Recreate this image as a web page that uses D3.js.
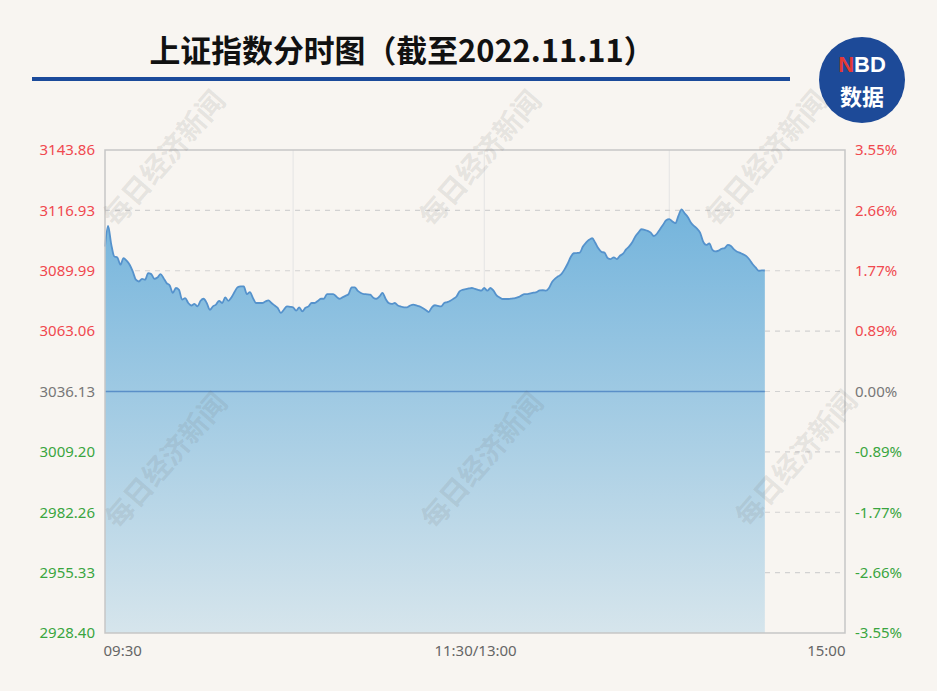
<!DOCTYPE html>
<html>
<head>
<meta charset="utf-8">
<script src="https://cdn.jsdelivr.net/npm/d3@7/dist/d3.min.js"></script>
<style>
  html, body { margin: 0; padding: 0; background: #f8f5f1; }
  svg { display: block; }
</style>
</head>
<body>
<div id="chart"></div>
<script>
// 上证指数 2022-11-11 分时数据 (每分钟, 09:30 起, 读图估计)
const prevClose = 3036.13;
const prices = [
  3100.8, 3110.0, 3102.0, 3096.4, 3095.9, 3092.7, 3095.6, 3094.5, 3092.7, 3089.7,
  3086.0, 3085.2, 3086.4, 3086.0, 3088.9, 3088.5, 3086.4, 3087.0, 3088.5, 3086.7,
  3084.5, 3083.4, 3080.1, 3082.3, 3081.5, 3077.1, 3077.8, 3075.6, 3074.5, 3075.2,
  3074.1, 3076.6, 3077.5, 3075.6, 3072.6, 3074.1, 3074.9, 3076.6, 3075.6, 3078.1,
  3076.6, 3078.1, 3080.5, 3082.6, 3083.0, 3083.0, 3079.6, 3080.5, 3077.8, 3075.6,
  3075.6, 3075.6, 3076.3, 3076.8, 3075.6, 3074.5, 3073.4, 3071.2, 3072.6, 3074.1,
  3073.9, 3073.7, 3072.2, 3073.7, 3071.9, 3073.5, 3074.1, 3075.6, 3075.6, 3076.5,
  3077.5, 3077.5, 3079.6, 3079.6, 3079.6, 3078.5, 3077.5, 3078.1, 3078.8, 3079.6,
  3082.6, 3082.6, 3081.0, 3080.1, 3079.6, 3079.5, 3079.3, 3078.0, 3077.5, 3078.5,
  3080.1, 3077.5, 3075.6, 3075.2, 3075.6, 3074.5, 3074.0, 3073.7, 3073.7, 3074.5,
  3074.9, 3074.5, 3074.1, 3073.4, 3072.5, 3071.6, 3073.7, 3074.6, 3074.3, 3074.1,
  3075.6, 3076.0, 3076.6, 3077.5, 3078.5, 3080.8, 3081.5, 3081.8, 3082.1, 3082.3,
  3081.9, 3081.5, 3081.1, 3082.3, 3081.1, 3082.3, 3081.1, 3079.0, 3078.1, 3077.4,
  3077.4, 3077.4, 3077.6, 3077.8, 3078.2, 3078.9, 3079.6, 3079.6, 3079.9, 3080.2,
  3080.5, 3081.2, 3081.3, 3081.1, 3082.3, 3085.0, 3086.5, 3087.5, 3088.5, 3090.5,
  3093.0, 3096.0, 3097.8, 3097.9, 3098.1, 3100.8, 3102.5, 3103.8, 3104.5, 3102.5,
  3100.0, 3098.4, 3098.1, 3095.7, 3095.2, 3096.0, 3095.2, 3096.7, 3097.6, 3099.5,
  3100.9, 3102.7, 3105.3, 3107.0, 3108.5, 3108.2, 3107.8, 3107.0, 3105.5, 3106.5,
  3108.5, 3110.5, 3112.5, 3113.0, 3112.0, 3111.2, 3114.6, 3117.4, 3115.6, 3114.0,
  3111.5, 3110.0, 3108.8, 3107.0, 3103.0, 3101.5, 3102.2, 3099.3, 3098.6, 3099.0,
  3099.8, 3100.1, 3101.5, 3101.0, 3099.5, 3098.5, 3098.0, 3097.3, 3096.5, 3095.0,
  3093.0, 3091.5, 3090.0, 3090.2, 3090.1
];

// 坐标轴刻度
const leftTicks = [3143.86, 3116.93, 3089.99, 3063.06, 3036.13, 3009.20, 2982.26, 2955.33, 2928.40];
const rightTicks = ["3.55%", "2.66%", "1.77%", "0.89%", "0.00%", "-0.89%", "-1.77%", "-2.66%", "-3.55%"];
const timeTicks = [0, 120, 240];
const timeLabels = ["09:30", "11:30/13:00", "15:00"];
const gridMinutes = [61, 123, 183];

const W = 937, H = 691;
const margin = {top: 150, right: 92, bottom: 58, left: 105};
const innerW = W - margin.left - margin.right,
      innerH = H - margin.top - margin.bottom;

const UP = "#f0494f", DOWN = "#3aa53f", FLAT = "#777";

const svg = d3.select("#chart").append("svg")
  .attr("width", W).attr("height", H)
  .style("font-family", "'Noto Sans', 'Noto Sans CJK SC', sans-serif");

svg.append("rect").attr("width", W).attr("height", H).attr("fill", "#f8f5f1");

// 标题
svg.append("text")
  .attr("x", 402).attr("y", 62)
  .attr("text-anchor", "middle")
  .attr("font-family", "'Noto Sans CJK SC', sans-serif")
  .attr("font-weight", "bold")
  .attr("font-size", 31)
  .attr("textLength", 505)
  .attr("lengthAdjust", "spacingAndGlyphs")
  .attr("fill", "#111")
  .text("上证指数分时图（截至2022.11.11）");

svg.append("rect")
  .attr("x", 32).attr("y", 77).attr("width", 758).attr("height", 4)
  .attr("fill", "#1b4a9a");

// NBD logo
const logo = svg.append("g").attr("transform", "translate(862,80)");
logo.append("circle").attr("r", 43).attr("fill", "#1d4a98");
const nbd = logo.append("text")
  .attr("y", -8).attr("text-anchor", "middle")
  .attr("font-family", "'Liberation Sans', Arial, sans-serif")
  .attr("font-weight", "bold").attr("font-size", 22);
nbd.append("tspan").attr("fill", "#e53935").text("N");
nbd.append("tspan").attr("fill", "#fff").text("BD");
logo.append("text")
  .attr("y", 25).attr("text-anchor", "middle")
  .attr("font-family", "'Noto Sans CJK SC', sans-serif")
  .attr("font-weight", "bold").attr("font-size", 22)
  .attr("fill", "#fff")
  .text("数据");

const g = svg.append("g").attr("transform", `translate(${margin.left},${margin.top})`);

const x = d3.scaleLinear().domain([0, 240]).range([0, innerW]);
const y = d3.scaleLinear().domain([leftTicks[leftTicks.length - 1], leftTicks[0]]).range([innerH, 0]);

// 竖向网格
g.selectAll(".vgrid").data(gridMinutes).enter().append("line")
  .attr("x1", d => x(d)).attr("x2", d => x(d))
  .attr("y1", 0).attr("y2", innerH)
  .attr("stroke", "#e4e4e4").attr("stroke-width", 1);

// 横向虚线网格
g.selectAll(".hgrid").data(leftTicks.slice(1, -1)).enter().append("line")
  .attr("x1", 0).attr("x2", innerW)
  .attr("y1", d => y(d)).attr("y2", d => y(d))
  .attr("stroke", "#d2d2d2").attr("stroke-width", 1.2)
  .attr("stroke-dasharray", "5,5");

// 渐变填充
const defs = svg.append("defs");
const grad = defs.append("linearGradient").attr("id", "areaGrad")
  .attr("gradientUnits", "userSpaceOnUse")
  .attr("x1", 0).attr("y1", y(3117.4)).attr("x2", 0).attr("y2", innerH);
grad.append("stop").attr("offset", "0%").attr("stop-color", "#74b4dc");
grad.append("stop").attr("offset", "100%").attr("stop-color", "#d6e5ec");

const area = d3.area()
  .x((d, i) => x(i))
  .y0(innerH)
  .y1(d => y(d))
  .curve(d3.curveMonotoneX);

const line = d3.line()
  .x((d, i) => x(i))
  .y(d => y(d))
  .curve(d3.curveMonotoneX);

g.append("path").datum(prices).attr("d", area).attr("fill", "url(#areaGrad)");

// 昨收线
g.append("line")
  .attr("x1", x(0)).attr("x2", x(prices.length - 1))
  .attr("y1", y(prevClose)).attr("y2", y(prevClose))
  .attr("stroke", "#5a8fc8").attr("stroke-width", 1.5);

g.append("path").datum(prices).attr("d", line)
  .attr("fill", "none").attr("stroke", "#5592cc").attr("stroke-width", 1.8);

// 边框
g.append("rect").attr("x", 0).attr("y", 0).attr("width", innerW).attr("height", innerH)
  .attr("fill", "none").attr("stroke", "#c6c6c6").attr("stroke-width", 1.5);

// 水印
const marks = [[166, 160], [482, 160], [768, 160], [168, 462], [484, 462], [798, 460]];
svg.selectAll(".wm").data(marks).enter().append("text")
  .attr("transform", d => `translate(${d[0]},${d[1]}) rotate(-49)`)
  .attr("text-anchor", "middle").attr("dominant-baseline", "middle")
  .attr("font-family", "'Noto Sans CJK SC', sans-serif")
  .attr("font-weight", "bold").attr("font-size", 28)
  .attr("fill", "rgba(110,110,110,0.15)")
  .text("每日经济新闻");

// 左轴
const colorFor = v => v > prevClose ? UP : (v < prevClose ? DOWN : FLAT);
const yLeft = d3.axisLeft(y).tickValues(leftTicks).tickFormat(d3.format(".2f")).tickSize(0).tickPadding(10);
const gl = g.append("g").call(yLeft);
gl.select(".domain").remove();
gl.selectAll("text").attr("font-size", 15).attr("font-family", "'Noto Sans', sans-serif")
  .attr("fill", d => colorFor(d));

// 右轴
const yRight = d3.axisRight(y).tickValues(leftTicks).tickFormat((d, i) => rightTicks[i]).tickSize(0).tickPadding(10);
const gr = g.append("g").attr("transform", `translate(${innerW},0)`).call(yRight);
gr.select(".domain").remove();
gr.selectAll("text").attr("font-size", 15).attr("font-family", "'Noto Sans', sans-serif")
  .attr("fill", d => colorFor(d));

// 时间轴
const xAxis = d3.axisBottom(x).tickValues(timeTicks).tickFormat((d, i) => timeLabels[i]).tickSize(0).tickPadding(12);
const gx = g.append("g").attr("transform", `translate(0,${innerH})`).call(xAxis);
gx.select(".domain").remove();
gx.selectAll("text").attr("font-size", 15).attr("font-family", "'Noto Sans', sans-serif")
  .attr("fill", "#666")
  .attr("text-anchor", (d, i) => i === 0 ? "start" : (i === timeTicks.length - 1 ? "end" : "middle"))
  .attr("dx", (d, i) => i === 0 ? -2 : 0);
</script>
</body>
</html>
